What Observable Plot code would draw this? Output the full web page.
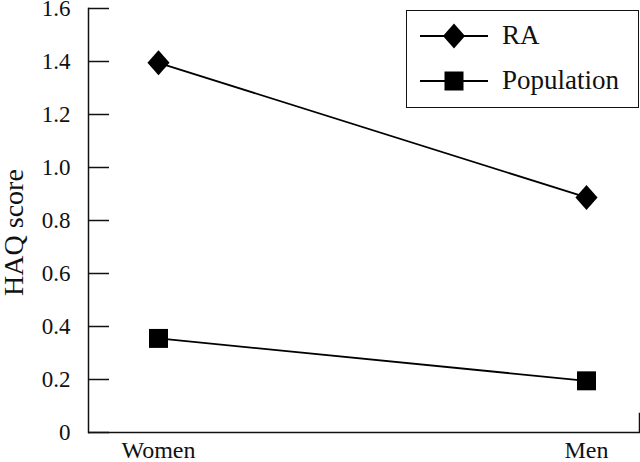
<!DOCTYPE html>
<html>
<head>
<meta charset="utf-8">
<script src="https://cdn.jsdelivr.net/npm/d3@7"></script>
<script src="https://cdn.jsdelivr.net/npm/@observablehq/plot@0.6"></script>
<style>
  html, body { margin: 0; padding: 0; background: #fff; }
  #wrap { position: relative; width: 640px; height: 462px; font-family: "Liberation Serif", "DejaVu Serif", serif; }
  #legend { position: absolute; left: 406px; top: 10px; width: 231px; height: 96px; border: 1.5px solid #111; background: #fff; }
  .row { position: absolute; left: 13px; display: flex; align-items: center; font-size: 27px; color: #111; font-family: "Liberation Serif", "DejaVu Serif", serif; }
  .row svg { margin-right: 12px; }
</style>
</head>
<body>
<div id="wrap"></div>
<script>
const categories = ["Women", "Men"];
const raValues = [1.395, 0.887];
const popValues = [0.355, 0.195];
const seriesNames = ["RA", "Population"];
const yTicks = [0, 0.2, 0.4, 0.6, 0.8, 1.0, 1.2, 1.4, 1.6];
const yLabel = "HAQ score";

const rows = [];
categories.forEach((c, i) => {
  rows.push({group: c, series: "RA", value: raValues[i]});
  rows.push({group: c, series: "Population", value: popValues[i]});
});

const diamond = {
  draw(ctx, size) {
    const s = Math.sqrt(size);
    const w = 0.78 * s, h = 0.88 * s;
    ctx.moveTo(0, -h); ctx.lineTo(w, 0); ctx.lineTo(0, h); ctx.lineTo(-w, 0); ctx.closePath();
  }
};

const W = 640, H = 462, mL = 88, mR = 1, mT = 8, mB = 30;
const frameW = W - mL - mR;
const serif = "'Liberation Serif', 'DejaVu Serif', serif";

const chart = Plot.plot({
  width: W, height: H,
  marginLeft: mL, marginRight: mR, marginTop: mT, marginBottom: mB,
  style: "font-family: 'Liberation Serif', 'DejaVu Serif', serif; font-size: 23px; color: #111; background: #fff;",
  x: {domain: categories, type: "point", range: [158, 586], padding: 0},
  y: {domain: [0, 1.6]},
  marks: [
    Plot.axisY({ticks: yTicks, tickSize: 0, tickPadding: 18, tickFormat: d => d === 0 ? "0" : d.toFixed(1),
      label: null, fontSize: 23, fontFamily: serif}),
    Plot.axisX({tickSize: 0, tickPadding: 8, label: null, fontSize: 24, fontFamily: serif}),
    Plot.text([yLabel], {text: d => d, frameAnchor: "left", textAnchor: "middle", rotate: -90, dx: -74, dy: 12, fontSize: 28, fontFamily: serif, fill: "#111"}),
    Plot.tickY(yTicks, {y: d => d, insetRight: frameW - 21, stroke: "#111", strokeWidth: 1.5}),
    Plot.frame({anchor: "left", stroke: "#111", strokeWidth: 1.5}),
    Plot.frame({anchor: "right", insetTop: H - mT - mB - 19, stroke: "#111", strokeWidth: 1.5}),
    Plot.ruleY([0], {stroke: "#111", strokeWidth: 1.5}),
    Plot.line(rows, {x: "group", y: "value", z: "series", stroke: "#000", strokeWidth: 1.8}),
    Plot.dot(rows.filter(d => d.series === "RA"), {x: "group", y: "value", r: 8, symbol: diamond, fill: "#000", stroke: "none"}),
    Plot.dot(rows.filter(d => d.series === "Population"), {x: "group", y: "value", r: 10.7, symbol: "square", fill: "#000", stroke: "none"})
  ]
});

const wrap = document.getElementById("wrap");
wrap.appendChild(chart);

// legend
const legend = document.createElement("div");
legend.id = "legend";
const iconFor = name => name === "RA"
  ? `<svg width="70" height="28"><line x1="0" y1="14" x2="68" y2="14" stroke="#000" stroke-width="1.8"/><path d="M34,1.5 L45,14 L34,26.5 L23,14 Z" fill="#000"/></svg>`
  : `<svg width="70" height="28"><line x1="0" y1="14" x2="68" y2="14" stroke="#000" stroke-width="1.8"/><rect x="24.5" y="4.5" width="19" height="19" fill="#000"/></svg>`;
seriesNames.forEach((name, i) => {
  const r = document.createElement("div");
  r.className = "row";
  r.style.top = (i === 0 ? 9 : 54) + "px";
  r.innerHTML = iconFor(name) + `<span>${name}</span>`;
  legend.appendChild(r);
});
wrap.appendChild(legend);
</script>
</body>
</html>
